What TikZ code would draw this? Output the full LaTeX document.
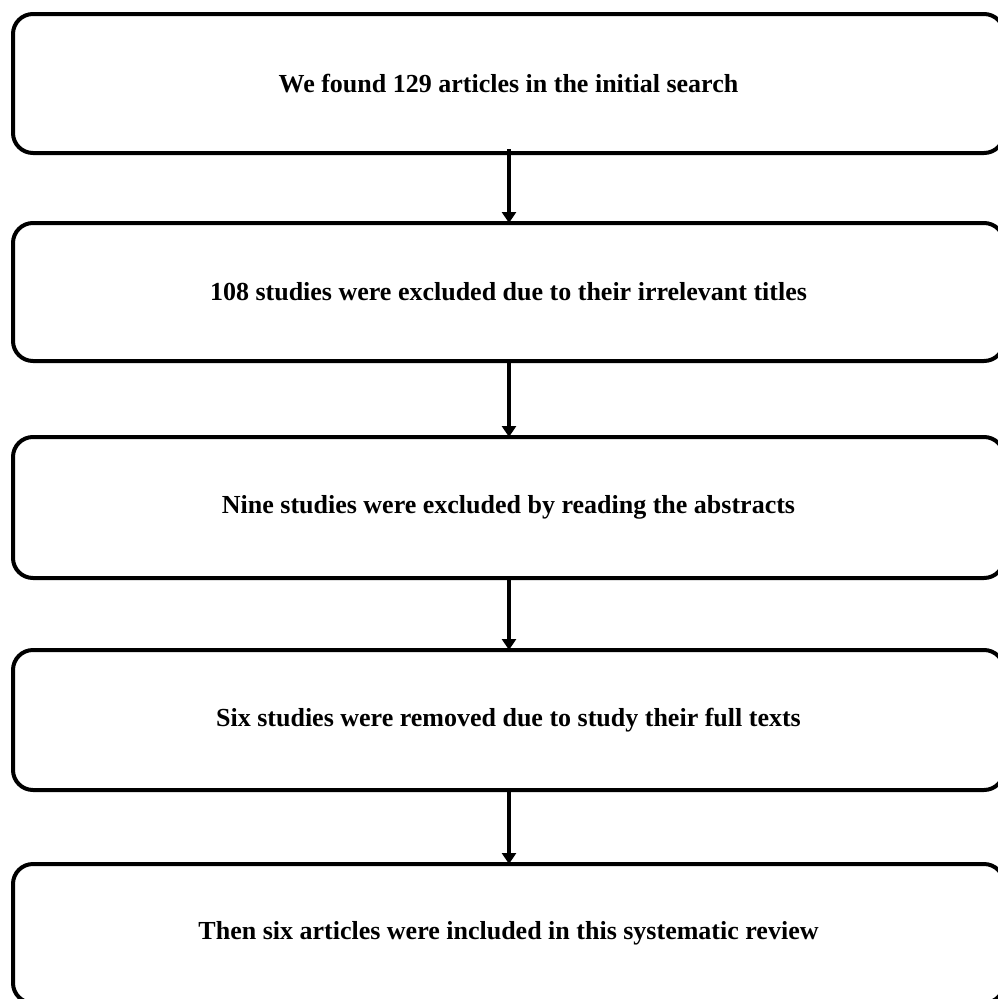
\documentclass[tikz,border=0pt]{standalone}
\usepackage{fontspec}
\setmainfont{Liberation Serif}
\usetikzlibrary{arrows.meta}
\begin{document}
\begin{tikzpicture}[x=1pt,y=-1pt,
  stepbox/.style={draw=black,line width=4pt,rounded corners=20pt,fill=white},
  steplabel/.style={font=\fontsize{26}{30}\selectfont\bfseries,inner sep=0pt},
  flowarrow/.style={draw=black,line width=3.5pt,-{Triangle[length=11pt,width=14pt]}}]
\useasboundingbox (0,0) rectangle (997,999);
\fill[white] (0,0) rectangle (997,999);
% boxes
\draw[stepbox] (13,14) rectangle (1004,153);
\draw[stepbox] (13,223) rectangle (1004,361);
\draw[stepbox] (13,437) rectangle (1004,578);
\draw[stepbox] (13,650) rectangle (1004,790);
\draw[stepbox] (13,864) rectangle (1004,1003);
% labels
\node[steplabel] (b1) at (508.5,83.5) {We found 129 articles in the initial search};
\node[steplabel] (b2) at (508.5,292) {108 studies were excluded due to their irrelevant titles};
\node[steplabel] (b3) at (508.5,507.5) {Nine studies were excluded by reading the abstracts};
\node[steplabel] (b4) at (508.5,720) {Six studies were removed due to study their full texts};
\node[steplabel] (b5) at (508.5,933.5) {Then six articles were included in this systematic review};
% connector anchors on box edges
\coordinate (s1) at (509,149);
\coordinate (t2) at (509,223);
\coordinate (s2) at (509,361);
\coordinate (t3) at (509,437);
\coordinate (s3) at (509,578);
\coordinate (t4) at (509,650);
\coordinate (s4) at (509,790);
\coordinate (t5) at (509,864);
\draw[flowarrow] (s1) -- (t2);
\draw[flowarrow] (s2) -- (t3);
\draw[flowarrow] (s3) -- (t4);
\draw[flowarrow] (s4) -- (t5);
\end{tikzpicture}
\end{document}
